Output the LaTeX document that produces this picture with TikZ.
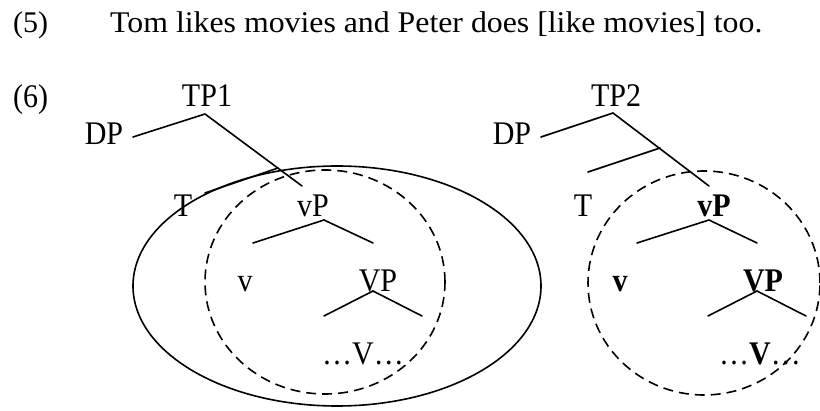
\documentclass[tikz,border=0pt]{standalone}
\usepackage{fontspec}
\setmainfont{Liberation Serif}
\begin{document}
\begin{tikzpicture}[x=1pt,y=-1pt,
  txt/.style={anchor=base,inner sep=0pt,font=\fontsize{30}{36}\selectfont},
  lbl/.style={txt,yscale=1.1},
  branch/.style={line width=1.6pt,line cap=round},
  solidring/.style={line width=1.6pt},
  dashring/.style={line width=1.6pt,dash pattern=on 10pt off 6pt}]
\useasboundingbox (0,0) rectangle (820,411);

% sentence (5)
\node[txt,anchor=base west] (n5) at (13,33) {(5)};
\node[txt,anchor=base west,xscale=1.06] (s5) at (110,33) {Tom likes movies and Peter does [like movies] too.};

% (6) label
\node[lbl,anchor=base west] (n6) at (13,108) {(6)};

% ---------- left tree ----------
\draw[solidring] (337,286) ellipse [x radius=204pt, y radius=120pt];
\draw[dashring] (325,282) ellipse [x radius=120pt, y radius=112pt];

\node[lbl] (tp1) at (207,107) {TP1};
\node[lbl] (dpA) at (104,145) {DP};
\node[lbl] (tA) at (183,217) {T};
\node[lbl] (vpA) at (313,217) {vP};
\node[lbl] (vA) at (245,292) {v};
\node[lbl] (VPA) at (378,292) {VP};
\node[lbl] (VA) at (363,365) {…V…};

\coordinate (tp1top) at (205,114);
\coordinate (dpAend) at (133,137);
\coordinate (vpAend) at (302,186);
\coordinate (tbarA) at (278,168);
\coordinate (tAend) at (205,193);
\coordinate (vpAtop) at (324,220);
\coordinate (vpAl) at (253,243);
\coordinate (vpAr) at (373,243);
\coordinate (VPAtop) at (373,291);
\coordinate (VPAl) at (324,316);
\coordinate (VPAr) at (422,316);

\draw[branch] (dpAend) -- (tp1top) -- (vpAend);
\draw[branch] (tbarA) -- (tAend);
\draw[branch] (vpAl) -- (vpAtop) -- (vpAr);
\draw[branch] (VPAl) -- (VPAtop) -- (VPAr);

% ---------- right tree ----------
\draw[dashring] (704,283) ellipse [x radius=116pt, y radius=112pt];

\node[lbl] (tp2) at (616,107) {TP2};
\node[lbl] (dpB) at (512,145) {DP};
\node[lbl] (tB) at (583,217) {T};
\node[lbl] (vpB) at (714,217) {\textbf{vP}};
\node[lbl] (vB) at (620,292) {\textbf{v}};
\node[lbl] (VPB) at (763,292) {\textbf{VP}};
\node[lbl] (VB) at (760,365) {…\textbf{V}…};

\coordinate (tp2top) at (613,113);
\coordinate (dpBend) at (541,137);
\coordinate (vpBend) at (709,186);
\coordinate (tbarB) at (660,148);
\coordinate (tBend) at (588,172);
\coordinate (vpBtop) at (709,220);
\coordinate (vpBl) at (637,243);
\coordinate (vpBr) at (757,243);
\coordinate (VPBtop) at (757,291);
\coordinate (VPBl) at (708,316);
\coordinate (VPBr) at (806,316);

\draw[branch] (dpBend) -- (tp2top) -- (vpBend);
\draw[branch] (tbarB) -- (tBend);
\draw[branch] (vpBl) -- (vpBtop) -- (vpBr);
\draw[branch] (VPBl) -- (VPBtop) -- (VPBr);
\end{tikzpicture}
\end{document}
